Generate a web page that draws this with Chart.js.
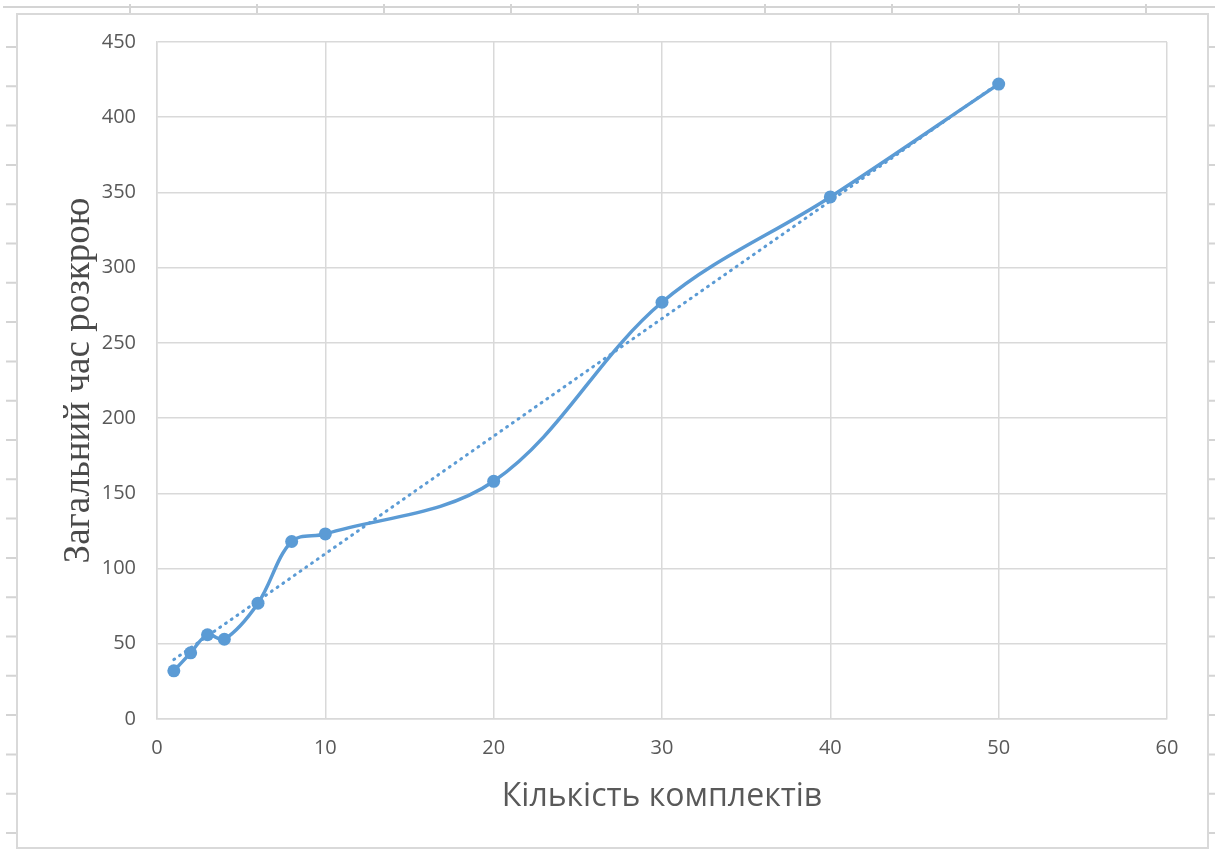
<!DOCTYPE html>
<html>
<head>
<meta charset="utf-8">
<script src="https://cdn.jsdelivr.net/npm/chart.js@4.4.0/dist/chart.umd.min.js"></script>
<style>
  html, body { margin: 0; padding: 0; background: #fff; }
  #wrap { width: 1215px; height: 850px; }
</style>
</head>
<body>
<div id="wrap"><canvas id="timeChart"></canvas></div>
<script>
// кількість комплектів / загальний час розкрою
const kits = [1, 2, 3, 4, 6, 8, 10, 20, 30, 40, 50];
const times = [32, 44, 56, 53, 77, 118, 123, 158, 277, 347, 422];

// лінія тренду
const trendKits = [1, 50];
const trendTimes = [39.5, 422.5];

const xTicks = [0, 10, 20, 30, 40, 50, 60];
const yTicks = [0, 50, 100, 150, 200, 250, 300, 350, 400, 450];

const blue = '#5B9BD5';
const grey = '#595959';
const gridGrey = '#d9d9d9';

// рамка діаграми та лінії аркуша навколо неї
const sheetFrame = {
    id: 'sheetFrame',
    beforeDraw(chart) {
        const ctx = chart.ctx;
        ctx.save();
        ctx.strokeStyle = '#d4d4d4';
        ctx.lineWidth = 2;
        ctx.beginPath();
        ctx.moveTo(3, 7);
        ctx.lineTo(1215, 7);
        for (let x = 130; x < 1215; x += 127) {
            ctx.moveTo(x, 4);
            ctx.lineTo(x, 14);
        }
        for (let y = 47; y < 850; y += 39.3) {
            ctx.moveTo(6, y);
            ctx.lineTo(17, y);
            ctx.moveTo(1209, y);
            ctx.lineTo(1215, y);
        }
        ctx.stroke();
        ctx.strokeStyle = '#d9d9d9';
        ctx.lineWidth = 2;
        ctx.strokeRect(17, 14, 1191, 834);
        ctx.restore();
    }
};

new Chart(document.getElementById('timeChart'), {
    type: 'line',
    data: {
        datasets: [{
            data: kits.map((k, i) => ({ x: k, y: times[i] })),
            borderColor: blue,
            backgroundColor: blue,
            borderWidth: 3.5,
            pointRadius: 6.5,
            pointBorderWidth: 0,
            tension: 0.35,
            order: 1
        }, {
            data: trendKits.map((k, i) => ({ x: k, y: trendTimes[i] })),
            borderColor: blue,
            borderWidth: 3,
            borderDash: [1, 6],
            borderCapStyle: 'round',
            pointRadius: 0,
            order: 2
        }]
    },
    options: {
        responsive: true,
        maintainAspectRatio: false,
        animation: false,
        layout: { padding: { left: 20, top: 42, right: 48, bottom: 10 } },
        plugins: {
            legend: { display: false },
            tooltip: { enabled: false }
        },
        scales: {
            x: {
                type: 'linear',
                min: 0,
                max: 60,
                afterFit(scale) { scale.height = 850 - 10 - 719; },
                afterBuildTicks(scale) { scale.ticks = xTicks.map(v => ({ value: v })); },
                grid: { color: gridGrey, lineWidth: 1.5, drawTicks: false },
                border: { color: gridGrey, width: 1.5 },
                ticks: {
                    color: grey,
                    padding: 17,
                    font: { family: 'Open Sans', size: 20 }
                },
                title: {
                    display: true,
                    text: 'Кількість комплектів',
                    color: grey,
                    font: { family: 'Open Sans', size: 32 },
                    padding: { top: 0, bottom: 24 }
                }
            },
            y: {
                min: 0,
                max: 450,
                afterFit(scale) { scale.width = 157 - 20; },
                afterBuildTicks(scale) { scale.ticks = yTicks.map(v => ({ value: v })); },
                grid: { color: gridGrey, lineWidth: 1.5, drawTicks: false },
                border: { color: gridGrey, width: 1.5 },
                ticks: {
                    color: grey,
                    padding: 21,
                    font: { family: 'Open Sans', size: 20 }
                },
                title: {
                    display: true,
                    text: 'Загальний час розкрою',
                    color: '#4a4a4a',
                    font: { family: 'Liberation Serif', size: 37 },
                    padding: { top: 37, bottom: 0 }
                }
            }
        }
    },
    plugins: [sheetFrame]
});
</script>
</body>
</html>
